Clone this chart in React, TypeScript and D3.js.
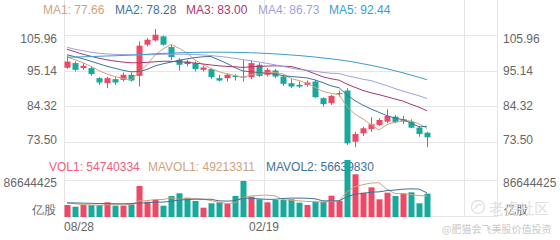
import React from "react";
import * as d3 from "d3";

const W = 560;
const H = 240;

// ---- data (weekly candles) ----
const dateLabels = ["08/28", "02/19"];
const dateIndex = [0, 25];
const priceTicks = [105.96, 95.14, 84.32, 73.5];
const volTicks = [86644425];

const open = [96.07, 97.51, 95.98, 95.98, 92.93, 91.40, 92.62, 92.41, 93.94, 93.63,
  103.10, 104.41, 105.63, 102.39, 98.52, 97.99, 97.51, 95.46, 95.68, 92.93,
  92.93, 93.63, 93.42, 93.23, 96.99, 93.94, 95.25, 93.42, 91.40, 90.88,
  90.88, 91.89, 86.83, 85.30, 88.05, 89.15, 73.58, 76.15, 77.46, 78.68,
  79.69, 81.21, 79.69, 79.69, 77.86, 76.33];
const high = [99.83, 97.99, 97.51, 96.47, 93.23, 93.33, 93.23, 94.64, 94.64, 104.10,
  105.14, 107.89, 105.84, 103.10, 99.04, 98.52, 97.99, 96.68, 95.98, 93.94,
  94.46, 94.15, 98.52, 98.30, 97.51, 95.98, 95.68, 93.94, 92.62, 91.89,
  92.20, 92.41, 87.13, 87.84, 89.15, 89.88, 76.63, 78.16, 81.03, 80.72,
  83.47, 81.73, 81.43, 80.42, 78.37, 76.63];
const low = [95.77, 94.94, 95.46, 93.63, 90.88, 89.88, 90.88, 91.89, 91.89, 90.37,
  102.58, 104.10, 102.79, 98.52, 95.25, 96.47, 94.94, 94.94, 92.62, 91.89,
  91.89, 92.20, 91.89, 92.62, 93.23, 93.42, 92.93, 90.58, 89.88, 89.88,
  90.37, 86.83, 84.26, 84.78, 87.32, 72.58, 71.87, 75.32, 76.63, 78.37,
  79.20, 79.20, 78.99, 77.67, 75.11, 71.87];
const close = [97.99, 95.46, 96.68, 94.15, 91.59, 92.93, 91.59, 93.94, 92.20, 102.79,
  104.62, 106.15, 103.10, 99.34, 96.99, 97.21, 95.68, 96.17, 93.23, 92.20,
  93.94, 93.23, 93.12, 97.51, 93.63, 95.46, 93.42, 91.19, 90.37, 90.37,
  91.59, 87.13, 85.00, 87.53, 88.36, 73.09, 75.93, 77.67, 78.89, 80.21,
  81.43, 79.50, 80.42, 77.86, 75.93, 74.93];

const volume = [28100000, 24100000, 28100000, 28100000, 28100000, 34400000, 26500000, 26500000, 29700000, 72600000,
  35800000, 39800000, 26500000, 49200000, 55500000, 45200000, 37500000, 21800000, 32100000, 34400000,
  30400000, 49200000, 84300000, 47500000, 41400000, 34400000, 39800000, 39800000, 41400000, 33500000,
  28100000, 35800000, 35800000, 49900000, 38200000, 133500000, 100000000, 56900000, 69500000, 41400000,
  56900000, 49200000, 55500000, 57800000, 32100000, 54740334];

const ma1 = [99.43, 98.51, 97.60, 96.53, 95.19, 94.15, 93.39, 92.84, 92.44, 94.70,
  97.02, 99.95, 101.78, 103.18, 102.02, 100.56, 98.45, 97.08, 95.86, 94.88,
  94.24, 93.75, 93.14, 94.00, 94.27, 94.58, 94.64, 94.24, 92.81, 92.17,
  91.37, 90.12, 88.90, 88.32, 87.92, 84.23, 81.97, 80.51, 78.80, 77.15,
  78.83, 79.53, 80.08, 79.87, 79.01, 77.66];
const ma2 = [100.04, 99.43, 98.82, 98.06, 97.29, 96.53, 95.92, 95.31, 94.85, 94.94,
  95.58, 96.65, 97.29, 97.81, 98.36, 98.79, 99.18, 99.43, 99.52, 98.45,
  97.38, 96.10, 95.09, 94.91, 94.58, 94.42, 94.18, 93.69, 93.42, 93.23,
  92.99, 92.38, 91.55, 90.58, 90.03, 87.80, 86.06, 84.69, 83.56, 82.52,
  81.51, 80.75, 80.29, 79.32, 78.10, 78.28];
const ma3 = [101.72, 100.95, 100.19, 99.58, 98.97, 98.51, 98.12, 97.81, 97.60, 97.60,
  97.75, 97.90, 98.06, 98.06, 97.90, 97.75, 97.51, 97.23, 96.93, 96.68,
  96.50, 96.38, 96.19, 96.38, 96.47, 96.59, 96.68, 96.56, 96.47, 95.84,
  95.19, 94.24, 93.32, 92.74, 92.32, 91.10, 90.12, 89.20, 88.47, 87.89,
  87.25, 86.58, 85.94, 84.96, 84.08, 83.00];
const ma4 = [102.33, 101.72, 101.26, 100.80, 100.50, 100.28, 100.16, 100.10, 100.04, 100.04,
  100.04, 100.10, 100.16, 100.19, 100.19, 100.16, 100.10, 99.98, 99.80, 99.55,
  99.28, 98.94, 98.57, 98.21, 97.81, 97.41, 96.99, 96.50, 96.01, 95.55,
  95.34, 95.03, 94.67, 94.42, 94.33, 93.66, 93.14, 92.59, 92.17, 91.40,
  90.64, 89.75, 88.99, 88.26, 87.56, 86.73];
const ma5 = [99.28, 99.34, 99.43, 99.49, 99.58, 99.67, 99.73, 99.83, 99.92, 100.04,
  100.19, 100.34, 100.47, 100.56, 100.65, 100.71, 100.77, 100.80, 100.83, 100.83,
  100.80, 100.77, 100.71, 100.65, 100.56, 100.44, 100.31, 100.16, 99.98, 99.80,
  99.58, 99.34, 99.06, 98.82, 98.51, 98.15, 97.75, 97.29, 96.83, 96.32,
  95.77, 95.16, 94.55, 93.87, 93.17, 92.44];

const mavol1 = [33000000, 31000000, 29000000, 28000000, 27300000, 28600000, 29000000, 28700000, 29000000, 37900000,
  38200000, 40900000, 40900000, 44800000, 41400000, 43200000, 42800000, 41800000, 38400000, 34200000,
  31200000, 33600000, 46100000, 49200000, 50600000, 51400000, 49500000, 40600000, 39400000, 37800000,
  36500000, 35700000, 34900000, 36600000, 37600000, 58600000, 71500000, 75700000, 79600000, 80300000,
  64900000, 54800000, 54500000, 52200000, 50300000, 49213311];
const mavol2 = [33000000, 33000000, 32500000, 32000000, 31500000, 31500000, 31000000, 31000000, 31500000, 32600000,
  33400000, 35000000, 34800000, 36900000, 39700000, 40700000, 41800000, 41400000, 41600000, 37800000,
  37200000, 38200000, 44000000, 43800000, 42400000, 41300000, 41500000, 43300000, 44300000, 44200000,
  43900000, 42600000, 37800000, 38000000, 37700000, 47600000, 53600000, 55300000, 58100000, 58900000,
  61800000, 63100000, 65100000, 65900000, 65300000, 56639830];

// ---- styles ----
const RED = "#f04864";
const TEAL = "#16a99c";
const C_MA1 = "#d0a27c";
const C_MA2 = "#3f7394";
const C_MA3 = "#a8396f";
const C_MA4 = "#9ea2e2";
const C_MA5 = "#3b9dcf";
const GRID = "#e6e6e6";
const AXIS_TXT = "#666";
const FONT = "'Liberation Sans', Arial, sans-serif";

const SLOTS = 50;
const idx = d3.range(SLOTS);
const x = d3.scaleBand<number>().domain(idx).range([63, 463]).padding(0);
const cx = (i: number) => (x(i) as number) + x.bandwidth() / 2;
const yP = d3.scaleLinear().domain([73.5, 105.96]).range([142, 35.3]);
const yV = d3.scaleLinear().domain([0, volTicks[0]]).range([217, 180]);

const LEFT = 64.5;
const RIGHT_IN = 464.5;
const RIGHT_OUT = 497.5;
const BOTTOM = 217;

function linePath(vals: number[], scale: (v: number) => number) {
  const g = d3
    .line<number>()
    .x((_, i) => cx(i))
    .y((v) => scale(v));
  return g(vals) || "";
}

export default function App() {
  const n = close.length;
  const maSeries = [
    { name: "MA1", vals: ma1, c: C_MA1, x: 43 },
    { name: "MA2", vals: ma2, c: C_MA2, x: 115 },
    { name: "MA3", vals: ma3, c: C_MA3, x: 186 },
    { name: "MA4", vals: ma4, c: C_MA4, x: 258 },
    { name: "MA5", vals: ma5, c: C_MA5, x: 329 },
  ];
  const clampP = (v: number) => Math.min(140, Math.max(39, yP(v)));
  const bodyW = 6;
  return (
    <div style={{ position: "fixed", left: 0, top: 0, width: W, height: H, background: "#fff" }}>
      <svg width={W} height={H} style={{ display: "block", fontFamily: FONT }}>
        <rect x={0} y={0} width={W} height={H} fill="#fff" />
        {/* grid */}
        {priceTicks.map((t) => {
          const yy = Math.round(yP(t)) + 0.5;
          return <line key={"pg" + t} x1={LEFT} x2={RIGHT_OUT} y1={yy} y2={yy} stroke={GRID} />;
        })}
        {volTicks.map((t) => {
          const yy = Math.round(yV(t)) + 0.5;
          return <line key={"vg" + t} x1={LEFT} x2={RIGHT_OUT} y1={yy} y2={yy} stroke={GRID} />;
        })}
        <line x1={LEFT} x2={RIGHT_OUT} y1={BOTTOM - 0.5} y2={BOTTOM - 0.5} stroke={GRID} />
        <line x1={LEFT} x2={LEFT} y1={0} y2={BOTTOM} stroke={GRID} />
        {dateIndex.slice(1).map((di) => {
          const xx = Math.round(x(di) as number) + 0.5 + 1;
          return <line key={"vx" + di} x1={xx} x2={xx} y1={0} y2={BOTTOM} stroke={GRID} />;
        })}
        <line x1={RIGHT_IN} x2={RIGHT_IN} y1={0} y2={BOTTOM} stroke={GRID} />
        <line x1={RIGHT_OUT} x2={RIGHT_OUT} y1={0} y2={BOTTOM} stroke={GRID} />

        {/* legends */}
        <g fontSize={12}>
          {maSeries.map((s) => (
            <text key={s.name} x={s.x} y={14} fill={s.c}>
              {`${s.name}: ${s.vals[s.vals.length - 1].toFixed(2)}`}
            </text>
          ))}
          <text x={49} y={171} fill="#f0607a">{`VOL1: ${volume[n - 1]}`}</text>
          <text x={148} y={171} fill={C_MA1}>{`MAVOL1: ${mavol1[n - 1]}`}</text>
          <text x={266} y={171} fill={C_MA2}>{`MAVOL2: ${mavol2[n - 1]}`}</text>
        </g>

        {/* axis labels */}
        <g fontSize={12} fill={AXIS_TXT}>
          {priceTicks.map((t) => (
            <React.Fragment key={"pl" + t}>
              <text x={57} y={clampP(t)} textAnchor="end" dominantBaseline="central">
                {t.toFixed(2)}
              </text>
              <text x={503} y={clampP(t)} dominantBaseline="central">
                {t.toFixed(2)}
              </text>
            </React.Fragment>
          ))}
          {volTicks.map((t) => (
            <React.Fragment key={"vl" + t}>
              <text x={57} y={Math.max(183, yV(t))} textAnchor="end" dominantBaseline="central">
                {String(t)}
              </text>
              <text x={503} y={Math.max(183, yV(t))} dominantBaseline="central">
                {String(t)}
              </text>
            </React.Fragment>
          ))}
          <text x={56} y={210} textAnchor="end" dominantBaseline="central">亿股</text>
          <text x={504} y={210} dominantBaseline="central">亿股</text>
          {dateLabels.map((d, k) => (
            <text
              key={d}
              x={k === 0 ? 64 : (x(dateIndex[k]) as number) + 1}
              y={227}
              textAnchor={k === 0 ? "start" : "middle"}
              dominantBaseline="central"
            >
              {d}
            </text>
          ))}
        </g>

        {/* candles */}
        {close.map((c, i) => {
          const o = open[i];
          const up = c >= o;
          const col = up ? RED : TEAL;
          const xc = Math.round(cx(i)) + 0.5;
          const yTop = yP(Math.max(o, c));
          const yBot = yP(Math.min(o, c));
          return (
            <g key={"c" + i}>
              <line x1={xc} x2={xc} y1={yP(high[i])} y2={yP(low[i])} stroke={col} strokeWidth={1} />
              <rect
                x={xc - bodyW / 2}
                y={yTop}
                width={bodyW}
                height={Math.max(1, yBot - yTop)}
                fill={col}
              />
            </g>
          );
        })}

        {/* MA lines */}
        {maSeries.map((s) => (
          <path key={"l" + s.name} d={linePath(s.vals, yP)} fill="none" stroke={s.c} strokeWidth={1} />
        ))}

        {/* volume bars */}
        {volume.map((v, i) => {
          const up = close[i] >= open[i];
          const xc = Math.round(cx(i));
          return (
            <rect
              key={"v" + i}
              x={xc - bodyW / 2 + 0.5}
              y={yV(v)}
              width={bodyW}
              height={BOTTOM - yV(v)}
              fill={up ? RED : TEAL}
            />
          );
        })}
        <path d={linePath(mavol1, yV)} fill="none" stroke={C_MA1} strokeWidth={1} />
        <path d={linePath(mavol2, yV)} fill="none" stroke={C_MA2} strokeWidth={1} />

        {/* watermark */}
        <g opacity={0.9}>
          <circle cx={478} cy={207} r={6.5} fill="none" stroke="#dcdcdc" strokeWidth={1.3} />
          <path d="M474.5,209 q3.5,-6 7,-4" fill="none" stroke="#dcdcdc" strokeWidth={1.3} />
          <text x={489} y={207} fontSize={15} fill="#dedede" dominantBaseline="central"
            fontFamily="'Noto Sans CJK SC', sans-serif">老虎社区</text>
          <text x={442} y={228} fontSize={10} fill="#c4c4c4" dominantBaseline="central"
            fontFamily="'Noto Sans CJK SC', sans-serif">@肥猫会飞美股价值投资</text>
        </g>
      </svg>
    </div>
  );
}
